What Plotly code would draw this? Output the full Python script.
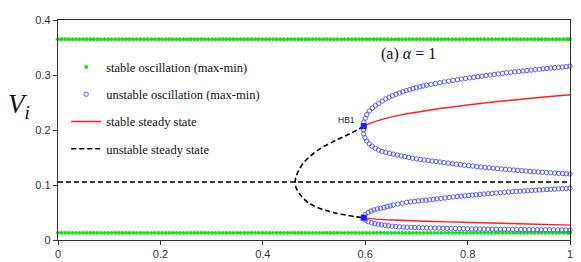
import plotly.graph_objects as go

# ---------------- data ----------------
# stable oscillation (max-min): parameter grid and constant max / min levels
osc_x = [0.000, 0.007, 0.014, 0.021, 0.028, 0.035, 0.042, 0.049, 0.056, 0.063, 0.070, 0.077,
         0.084, 0.091, 0.098, 0.105, 0.112, 0.119, 0.126, 0.133, 0.140, 0.147, 0.154, 0.161,
         0.168, 0.175, 0.182, 0.189, 0.196, 0.203, 0.210, 0.217, 0.224, 0.231, 0.238, 0.245,
         0.252, 0.259, 0.266, 0.273, 0.280, 0.287, 0.294, 0.301, 0.308, 0.315, 0.322, 0.329,
         0.336, 0.343, 0.350, 0.357, 0.364, 0.371, 0.378, 0.385, 0.392, 0.399, 0.406, 0.413,
         0.420, 0.427, 0.434, 0.441, 0.448, 0.455, 0.462, 0.469, 0.476, 0.483, 0.490, 0.497,
         0.504, 0.511, 0.518, 0.525, 0.532, 0.539, 0.546, 0.553, 0.560, 0.567, 0.574, 0.581,
         0.588, 0.595, 0.602, 0.609, 0.616, 0.623, 0.630, 0.637, 0.644, 0.651, 0.658, 0.665,
         0.672, 0.679, 0.686, 0.693, 0.700, 0.707, 0.714, 0.721, 0.728, 0.735, 0.742, 0.749,
         0.756, 0.763, 0.770, 0.777, 0.784, 0.791, 0.798, 0.805, 0.812, 0.819, 0.826, 0.833,
         0.840, 0.847, 0.854, 0.861, 0.868, 0.875, 0.882, 0.889, 0.896, 0.903, 0.910, 0.917,
         0.924, 0.931, 0.938, 0.945, 0.952, 0.959, 0.966, 0.973, 0.980, 0.987, 0.994, 0.997, 1.000]
osc_max_level = 0.365
osc_min_level = 0.013

# unstable oscillation branches (x, y)
um_x = [0.597, 0.5975, 0.600, 0.603, 0.608, 0.614, 0.620, 0.6267, 0.6333, 0.640, 0.6467, 0.6533,
        0.660, 0.6667, 0.6733, 0.680, 0.6867, 0.6933, 0.700, 0.7067, 0.7133, 0.720, 0.7287,
        0.7373, 0.746, 0.7545, 0.763, 0.7715, 0.780, 0.788, 0.796, 0.804, 0.812, 0.820, 0.828,
        0.836, 0.844, 0.852, 0.860, 0.868, 0.876, 0.884, 0.892, 0.900, 0.908, 0.916, 0.924,
        0.932, 0.940, 0.9475, 0.955, 0.9625, 0.970, 0.9775, 0.985, 0.9925, 1.000]
um_y = [0.207, 0.2145, 0.2215, 0.228, 0.2345, 0.2398, 0.2445, 0.2485, 0.2525, 0.2565, 0.2595,
        0.2622, 0.265, 0.2672, 0.2694, 0.2715, 0.2733, 0.2752, 0.277, 0.2785, 0.280, 0.2815,
        0.283, 0.2845, 0.286, 0.2874, 0.2888, 0.2901, 0.2915, 0.2926, 0.2937, 0.2948, 0.2959,
        0.297, 0.298, 0.299, 0.300, 0.301, 0.302, 0.303, 0.304, 0.3048, 0.3056, 0.3064, 0.3073,
        0.3081, 0.3089, 0.3097, 0.3105, 0.3112, 0.3119, 0.3126, 0.3133, 0.3139, 0.3146, 0.3153,
        0.316]

umin_x = [0.597, 0.5965, 0.597, 0.5995, 0.603, 0.608, 0.6135, 0.6195, 0.626, 0.633, 0.640,
          0.6475, 0.655, 0.6625, 0.670, 0.6775, 0.685, 0.6925, 0.700, 0.7077, 0.7153, 0.723,
          0.7307, 0.7383, 0.746, 0.754, 0.762, 0.770, 0.778, 0.786, 0.794, 0.802, 0.810, 0.818,
          0.826, 0.834, 0.842, 0.850, 0.858, 0.866, 0.874, 0.882, 0.890, 0.898, 0.906, 0.914,
          0.922, 0.930, 0.938, 0.946, 0.954, 0.962, 0.970, 0.978, 0.986, 0.993, 1.000]
umin_y = [0.207, 0.200, 0.1928, 0.186, 0.180, 0.175, 0.1705, 0.1668, 0.1636, 0.1612, 0.1593,
          0.1576, 0.1561, 0.1545, 0.1529, 0.1515, 0.1501, 0.1488, 0.1475, 0.1465, 0.1455, 0.1445,
          0.1435, 0.1427, 0.1418, 0.1408, 0.1398, 0.1388, 0.1378, 0.1368, 0.136, 0.1352, 0.1344,
          0.1336, 0.1328, 0.132, 0.1313, 0.1306, 0.1299, 0.1292, 0.1285, 0.1279, 0.1272, 0.1266,
          0.126, 0.1254, 0.1248, 0.1242, 0.1237, 0.1232, 0.1227, 0.1222, 0.1217, 0.1212, 0.1208,
          0.1204, 0.120]

lmax_x = [0.597, 0.600, 0.606, 0.6115, 0.617, 0.6235, 0.630, 0.6365, 0.643, 0.649, 0.655,
          0.6637, 0.6723, 0.681, 0.6887, 0.6963, 0.704, 0.7112, 0.7184, 0.7256, 0.7328, 0.740,
          0.748, 0.756, 0.764, 0.772, 0.780, 0.7873, 0.7947, 0.802, 0.8093, 0.8167, 0.824, 0.832,
          0.840, 0.848, 0.856, 0.864, 0.872, 0.880, 0.8875, 0.895, 0.9025, 0.910, 0.9175, 0.925,
          0.9325, 0.940, 0.9475, 0.955, 0.9625, 0.970, 0.9775, 0.985, 0.9925, 1.000]
lmax_y = [0.0406, 0.0462, 0.050, 0.0525, 0.0547, 0.0562, 0.0576, 0.0591, 0.0606, 0.0621, 0.0636,
          0.0652, 0.0669, 0.0685, 0.0694, 0.0702, 0.071, 0.0718, 0.0725, 0.0733, 0.074, 0.0748,
          0.0756, 0.0765, 0.0773, 0.0782, 0.079, 0.0797, 0.0803, 0.081, 0.0817, 0.0823, 0.083,
          0.0836, 0.0842, 0.0848, 0.0855, 0.0861, 0.0867, 0.0873, 0.0878, 0.0882, 0.0887, 0.0892,
          0.0896, 0.0901, 0.0905, 0.091, 0.0914, 0.0918, 0.0921, 0.0925, 0.0929, 0.0933, 0.0936,
          0.094]

lmin_x = [0.597, 0.600, 0.606, 0.6125, 0.619, 0.6255, 0.632, 0.6385, 0.6455, 0.6525, 0.6595,
          0.667, 0.6745, 0.682, 0.6895, 0.697, 0.7045, 0.712, 0.720, 0.728, 0.736, 0.744, 0.752,
          0.760, 0.768, 0.776, 0.784, 0.792, 0.800, 0.808, 0.816, 0.824, 0.832, 0.840, 0.848,
          0.856, 0.864, 0.872, 0.880, 0.888, 0.896, 0.904, 0.912, 0.920, 0.928, 0.936, 0.944,
          0.952, 0.960, 0.968, 0.976, 0.984, 0.992, 1.000]
lmin_y = [0.0406, 0.0365, 0.0333, 0.0312, 0.0298, 0.0287, 0.0277, 0.0268, 0.026, 0.0252, 0.0245,
          0.024, 0.0235, 0.0231, 0.0228, 0.0226, 0.0224, 0.0222, 0.0221, 0.0219, 0.0218, 0.0216,
          0.0215, 0.0213, 0.0212, 0.021, 0.0208, 0.0207, 0.0205, 0.0204, 0.0202, 0.020, 0.0199,
          0.0198, 0.0197, 0.0196, 0.0195, 0.0194, 0.0194, 0.0193, 0.0192, 0.0191, 0.019, 0.0189,
          0.0188, 0.0187, 0.0186, 0.0186, 0.0185, 0.0184, 0.0183, 0.0182, 0.0181, 0.018]

# stable steady state (two branches)
ss_up_x = [0.597, 0.610, 0.630, 0.650, 0.670, 0.690, 0.707, 0.746, 0.800, 0.850, 0.900, 0.950, 1.000]
ss_up_y = [0.207, 0.2125, 0.2185, 0.2235, 0.2275, 0.231, 0.2333, 0.239, 0.2455, 0.251, 0.2555, 0.260, 0.264]
ss_lo_x = [0.597, 0.620, 0.650, 0.707, 0.760, 0.824, 0.900, 1.000]
ss_lo_y = [0.0406, 0.038, 0.0365, 0.0345, 0.033, 0.0315, 0.0295, 0.027]

# unstable steady state: flat branch and fold curve
uss_flat_x = [0.0, 1.0]
uss_flat_y = [0.1055, 0.1055]
uss_fold_x = [0.597, 0.574, 0.544, 0.512, 0.492, 0.479, 0.470, 0.465, 0.463, 0.465, 0.471,
              0.480, 0.490, 0.505, 0.522, 0.542, 0.564, 0.583, 0.597]
uss_fold_y = [0.207, 0.195, 0.182, 0.166, 0.152, 0.140, 0.126, 0.115, 0.104, 0.095, 0.085,
              0.075, 0.067, 0.060, 0.054, 0.049, 0.045, 0.042, 0.0406]

# Hopf points
hb_x = [0.597, 0.597]
hb_y = [0.207, 0.0406]

x_ticks = [0, 0.2, 0.4, 0.6, 0.8, 1]
x_tick_text = ["0", "0.2", "0.4", "0.6", "0.8", "1"]
y_ticks = [0, 0.1, 0.2, 0.3, 0.4]
y_tick_text = ["0", "0.1", "0.2", "0.3", "0.4"]

# ---------------- figure ----------------
GREEN = "#10e010"
BLUE = "#4a4aff"
RED = "#ff2020"
SERIF = "Liberation Serif, DejaVu Serif, serif"
SANS = "Liberation Sans, Arial, sans-serif"

fig = go.Figure()

fig.add_trace(go.Scatter(
    x=osc_x + osc_x, y=[osc_max_level] * len(osc_x) + [osc_min_level] * len(osc_x),
    mode="markers", name="stable oscillation (max-min)", legendgroup="a",
    marker=dict(symbol="circle", size=3.8, color=GREEN, line=dict(width=0)),
    cliponaxis=False))

fig.add_trace(go.Scatter(
    x=um_x + umin_x + lmax_x + lmin_x, y=um_y + umin_y + lmax_y + lmin_y,
    mode="markers", name="unstable oscillation (max-min)", legendgroup="b",
    marker=dict(symbol="circle-open", size=4.4, color=BLUE, line=dict(width=0.9, color=BLUE)),
    cliponaxis=False))

fig.add_trace(go.Scatter(
    x=ss_up_x + [None] + ss_lo_x, y=ss_up_y + [None] + ss_lo_y,
    mode="lines", name="stable steady state", legendgroup="c",
    line=dict(color=RED, width=1.4, shape="spline", smoothing=0.8)))

fig.add_trace(go.Scatter(
    x=uss_flat_x + [None] + uss_fold_x, y=uss_flat_y + [None] + uss_fold_y,
    mode="lines", name="unstable steady state", legendgroup="d",
    line=dict(color="black", width=1.6, dash="5px,3px", shape="spline", smoothing=0.8)))

fig.add_trace(go.Scatter(
    x=hb_x, y=hb_y, mode="markers", showlegend=False,
    marker=dict(symbol="square", size=6, color="#1a1aff")))

fig.add_annotation(x=0.583, y=0.2185, xref="x", yref="y", text="HB1", showarrow=False,
                   xanchor="right", yanchor="middle",
                   font=dict(family=SANS, size=8.5, color="#222"))
fig.add_annotation(x=0.684, y=0.338, xref="x", yref="y", text="(a) <i>α</i> = 1", showarrow=False,
                   xanchor="center", yanchor="middle",
                   font=dict(family=SERIF, size=16, color="#111"))
fig.add_annotation(x=-0.077, y=0.243, xref="paper", yref="y",
                   text="<i>V</i><sub><i>i</i></sub>", showarrow=False,
                   xanchor="center", yanchor="middle",
                   font=dict(family=SERIF, size=27, color="#111"))

axis_common = dict(showgrid=False, zeroline=False, showline=True, linecolor="#333",
                   linewidth=1.3, mirror=True, ticks="outside", ticklen=4, tickwidth=1,
                   tickcolor="#333", automargin=False,
                   tickfont=dict(family=SANS, size=11, color="#333"))

fig.update_xaxes(range=[0, 1], tickvals=x_ticks, ticktext=x_tick_text, **axis_common)
fig.update_yaxes(range=[0, 0.4], tickvals=y_ticks, ticktext=y_tick_text, **axis_common)

fig.update_layout(
    width=581, height=262,
    margin=dict(l=58, r=11, t=20, b=22, autoexpand=False),
    plot_bgcolor="white", paper_bgcolor="white",
    showlegend=True,
    legend=dict(x=0.016, y=0.853, xanchor="left", yanchor="top",
                font=dict(family=SERIF, size=12.5, color="#111"),
                bgcolor="rgba(0,0,0,0)", borderwidth=0,
                tracegroupgap=8, itemwidth=30),
)

fig.write_html("out.html", config={"displayModeBar": False},
               post_script="document.body.style.margin='0';document.body.style.overflow='hidden';")
